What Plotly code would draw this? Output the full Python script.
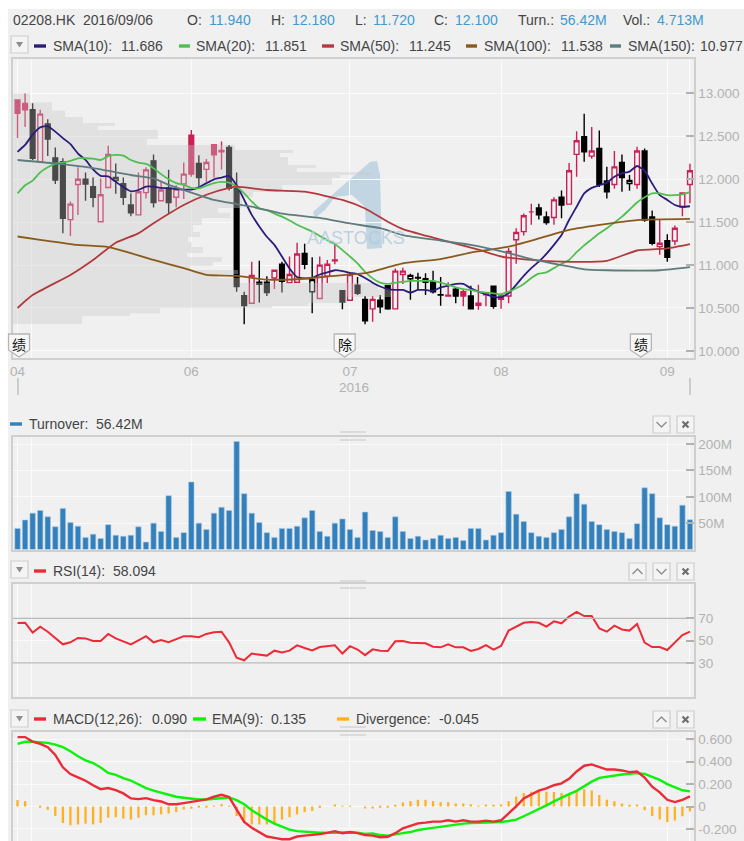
import plotly.graph_objects as go

W, H = 744, 841

# ---------- data ----------
opens = [12.925,12.885,12.81,12.205,12.645,12.25,12.205,11.53,11.94,12.0,11.915,11.505,11.905,11.985,11.95,11.70,11.585,11.845,12.215,11.75,
         11.90,11.79,11.945,12.515,12.185,12.115,12.40,12.335,12.37,11.895,10.644,10.555,10.775,10.80,10.85,11.01,10.795,10.80,11.135,10.69,
         10.61,10.87,11.06,10.70,10.59,10.765,10.60,10.49,10.59,10.76,10.49,10.89,10.84,10.855,10.84,10.805,10.655,10.64,10.72,10.69,
         10.64,10.53,10.655,10.755,10.64,10.64,11.295,11.39,11.62,11.665,11.56,11.555,11.79,11.71,12.29,12.495,12.27,12.36,11.98,11.94,
         12.195,11.95,11.94,12.33,11.56,11.215,11.285,11.28,11.675,11.94]
highs = [12.925,13.0,12.885,12.81,12.70,12.37,12.245,11.74,12.14,12.08,12.02,12.01,12.39,12.185,12.02,11.835,12.08,12.14,12.29,11.97,
         12.11,11.93,12.195,12.575,12.28,12.235,12.40,12.44,12.40,12.08,10.69,11.04,11.05,10.87,10.94,11.04,11.10,11.26,11.25,11.09,
         11.10,11.06,11.25,10.70,10.91,10.86,10.64,10.64,10.65,10.76,10.96,10.97,10.90,10.91,10.905,10.935,10.86,10.80,10.74,10.71,
         10.76,10.77,10.665,10.76,10.65,11.20,11.43,11.60,11.715,11.715,11.625,11.79,11.87,12.19,12.56,12.765,12.61,12.57,12.145,12.33,
         12.29,12.05,12.38,12.36,11.635,11.53,11.36,11.46,11.85,12.18]
lows = [12.48,12.61,12.225,12.205,12.27,11.945,11.37,11.34,11.585,11.75,11.675,11.505,11.905,11.83,11.70,11.57,11.585,11.775,11.67,11.75,
        11.60,11.675,11.77,12.03,11.915,11.97,12.02,12.115,11.87,10.69,10.31,10.555,10.565,10.64,10.72,10.68,10.795,10.80,10.95,10.44,
        10.61,10.79,11.01,10.485,10.59,10.65,10.31,10.34,10.44,10.48,10.49,10.78,10.595,10.71,10.65,10.67,10.525,10.63,10.555,10.52,
        10.49,10.48,10.52,10.49,10.49,10.555,11.015,11.345,11.47,11.53,11.47,11.47,11.545,11.71,12.03,12.205,12.24,11.91,11.775,11.89,
        11.855,11.865,11.89,11.505,11.23,11.12,11.04,11.235,11.57,11.72]
closes = [12.77,12.81,12.245,12.76,12.47,11.99,11.545,11.71,12.0,11.945,11.79,11.82,12.29,12.02,11.79,11.61,11.855,12.11,11.73,11.875,
          11.73,11.885,12.06,12.06,12.02,12.195,12.285,12.32,11.895,10.75,10.527,10.88,10.80,10.68,10.94,10.81,10.89,11.13,11.01,10.83,
          11.0,11.01,11.05,10.57,10.89,10.67,10.35,10.60,10.515,10.49,10.93,10.93,10.88,10.85,10.80,10.69,10.65,10.65,10.64,10.64,
          10.49,10.555,10.665,10.52,10.60,11.16,11.38,11.575,11.62,11.585,11.495,11.76,11.70,12.10,12.45,12.32,12.33,11.94,11.855,12.145,
          12.02,11.985,12.33,11.525,11.255,11.255,11.09,11.43,11.84,12.10]
candle_tone = ("rrkrkkkrrk" "krrkkkrrkr" "krrrkrrrkk" "krkkrkrrkk" "rrrkrkkrkk"
               "rrkkkkkrkr" "krrkrrrrrk" "krkrrkrkkr" "kkrkkrkrrr")

turnover = [40,56,69,74,62,43,78,51,44,23,29,21,47,27,25,27,43,14,50,34,102,23,32,128,50,38,69,80,74,205,
            106,69,51,32,23,40,40,44,60,74,34,25,50,58,38,23,71,36,34,23,62,34,21,25,18,21,27,21,23,17,
            40,40,18,27,32,110,67,53,32,25,23,32,38,62,106,86,53,47,38,34,32,21,49,117,106,60,47,44,84,56.42]
rsi = [65.8,66.1,57.2,62.5,58,52,46.7,48.5,52.4,52,49.7,49.7,56,52,49,46.7,50.3,54,48.5,50.6,
       48.5,51,54,54,53,56,57.5,58,48.5,34.8,32.4,38.4,37.8,36.6,41,39.3,41,45.8,43.4,41.3,
       44.3,45,45.8,38.4,45,42,37,42.2,41,40.7,49.4,49.7,48.2,47.9,47.6,44.6,44,46.7,44,44,
       40.7,42.5,46,42,45.2,59,62.5,66,66.7,66,62.5,67.3,65.5,71.5,75.7,72,72,61,58,63.4,
       60,59,65,48.2,44.3,44.3,41.6,48.5,55,58.094]
macd = [.62,.62,.58,.56,.53,.46,.35,.29,.26,.23,.19,.155,.165,.147,.117,.072,.066,.075,.057,.045,
        .02,.02,.03,.042,.05,.063,.087,.105,.084,-.033,-.138,-.19,-.23,-.268,-.28,-.292,-.292,-.268,-.26,-.255,
        -.247,-.235,-.22,-.238,-.228,-.238,-.255,-.26,-.274,-.27,-.238,-.195,-.171,-.15,-.144,-.135,-.135,-.123,-.135,-.123,
        -.135,-.135,-.126,-.135,-.123,-.063,0,.072,.11,.141,.162,.19,.207,.247,.313,.364,.376,.352,.33,.33,
        .322,.307,.313,.259,.177,.126,.06,.04,.06,.09]
ema = [.56,.578,.578,.571,.568,.553,.53,.493,.448,.412,.388,.349,.30,.283,.253,.232,.195,.165,.141,.123,
       .102,.087,.078,.069,.063,.063,.069,.078,.081,.057,.02,-.033,-.078,-.117,-.153,-.177,-.207,-.22,-.226,-.232,
       -.235,-.235,-.232,-.232,-.232,-.235,-.244,-.24,-.255,-.26,-.247,-.238,-.228,-.21,-.20,-.19,-.18,-.171,-.16,-.153,
       -.147,-.144,-.144,-.144,-.138,-.129,-.117,-.087,-.057,-.02,.01,.046,.08,.11,.14,.183,.222,.256,.268,.277,
       .286,.292,.298,.292,.268,.238,.20,.17,.145,.135]
divergence = [.057,.048,0,-.01,-.03,-.085,-.147,-.168,-.16,-.153,-.16,-.147,-.10,-.096,-.108,-.117,-.10,-.078,-.078,-.07,
              -.063,-.05,-.027,-.02,-.01,-.003,.006,.021,.003,-.085,-.147,-.16,-.16,-.16,-.153,-.117,-.096,-.07,-.05,-.04,
              -.012,0,.018,.003,.005,0,-.018,-.018,-.01,-.01,.015,.036,.048,.06,.06,.048,.039,.039,.027,.027,
              .02,.006,.018,.012,.018,.048,.09,.12,.132,.13,.132,.13,.12,.12,.141,.153,.144,.102,.06,.048,
              .027,.015,.018,-.033,-.084,-.117,-.138,-.126,-.087,-.045]
sma10 = [12.32,12.40,12.52,12.605,12.62,12.555,12.48,12.41,12.30,12.225,12.115,12.04,12.035,11.97,11.91,11.86,11.875,11.915,11.915,11.90,
         11.895,11.885,11.88,11.88,11.905,11.955,12.0,12.02,12.04,11.93,11.76,11.585,11.45,11.33,11.235,11.10,10.96,10.86,10.845,10.85,
         10.89,10.915,10.94,10.93,10.91,10.895,10.85,10.795,10.75,10.72,10.71,10.71,10.68,10.71,10.71,10.70,10.74,10.76,10.78,10.78,
         10.73,10.69,10.66,10.63,10.625,10.67,10.77,10.875,10.965,11.04,11.13,11.235,11.35,11.525,11.68,11.835,11.90,11.93,11.96,12.03,
         12.07,12.09,12.155,12.10,11.95,11.815,11.76,11.70,11.68,11.686]
sma20 = [11.835,11.93,11.985,12.08,12.14,12.18,12.195,12.215,12.245,12.245,12.24,12.225,12.27,12.285,12.275,12.225,12.195,12.18,12.13,12.06,
         12.0,11.955,11.935,11.90,11.895,11.925,11.955,11.97,11.96,11.915,11.835,11.74,11.66,11.64,11.60,11.565,11.52,11.47,11.43,11.39,
         11.34,11.29,11.245,11.175,11.10,11.02,10.92,10.845,10.795,10.78,10.795,10.805,10.815,10.815,10.815,10.815,10.795,10.77,10.74,10.72,
         10.71,10.69,10.68,10.67,10.66,10.69,10.73,10.78,10.85,10.90,10.915,10.965,11.015,11.06,11.15,11.23,11.30,11.37,11.43,11.495,
         11.565,11.645,11.73,11.79,11.835,11.835,11.815,11.815,11.825,11.851]
sma50_idx = [0,2,7,10,13,16,18,22,25,28,29,33,38,43,46,49,51,55,61,64,68,72,78,82,86,89]
sma50 = [10.50,10.65,10.885,11.06,11.26,11.37,11.487,11.70,11.82,11.90,11.915,11.875,11.855,11.76,11.66,11.505,11.42,11.32,11.18,11.10,11.06,11.04,11.05,11.17,11.195,11.245]
sma100_idx = [0,3,8,12,15,18,22,25,29,33,37,42,46,47,51,56,60,65,69,73,78,82,89]
sma100 = [11.333,11.295,11.235,11.21,11.14,11.06,10.965,10.885,10.875,10.83,10.835,10.875,10.905,10.925,11.02,11.07,11.145,11.215,11.31,11.41,11.48,11.525,11.538]
sma150_idx = [0,5,10,15,18,20,22,26,31,35,40,44,48,51,56,60,65,68,72,75,78,85,89]
sma150 = [12.225,12.185,12.13,12.05,12.01,11.935,11.875,11.76,11.68,11.60,11.55,11.485,11.43,11.35,11.285,11.235,11.14,11.07,11.0,10.95,10.94,10.94,10.977]

profile_high = [13.0,12.895,12.80,12.726,12.656,12.621,12.575,12.47,12.40,12.34,12.307,12.26,12.167,12.132,12.085,12.05,12.015,11.934,11.852,11.794,11.666,11.607,11.549,11.467,11.386,11.327,11.269,11.211,11.14,11.094,11.036,10.99,10.943,10.897,10.85,10.791,10.721,10.628,10.558,10.523,10.50,10.44,10.407]
profile_low = [12.895,12.80,12.726,12.656,12.621,12.575,12.47,12.40,12.34,12.307,12.26,12.167,12.132,12.085,12.05,12.015,11.934,11.852,11.794,11.666,11.607,11.549,11.467,11.386,11.327,11.269,11.211,11.14,11.094,11.036,10.99,10.943,10.897,10.85,10.791,10.721,10.628,10.558,10.523,10.50,10.44,10.407,10.313]
profile_volume = [17,39,52,70,102,85,145,134,222,280,267,275,303,284,359,327,319,269,240,229,205,217,189,180,187,175,179,190,174,209,200,177,225,204,227,365,379,334,295,259,147,117,69]

month_idx = [0,1.9,23,44,64,86,89]
month_labels = ["04","","06","07","08","09",""]
flag_idx = [0.2,43.3,82.5]
flag_labels = ["绩","除","绩"]

price_ticks = [10,10.5,11,11.5,12,12.5,13]
price_tick_labels = ["10.000","10.500","11.000","11.500","12.000","12.500","13.000"]
turn_ticks = [50,100,150,200]
turn_tick_labels = ["50M","100M","150M","200M"]
rsi_ticks = [30,50,70]
macd_ticks = [-0.2,0,0.2,0.4,0.6]
macd_tick_labels = ["-0.200","0","0.200","0.400","0.600"]

# ---------- colours ----------
C_SMA10, C_SMA20, C_SMA50, C_SMA100, C_SMA150 = "#2b1d7c", "#4fbf50", "#b23a3f", "#8a5a1c", "#5f7c7c"
C_PINK, C_DARK = "#cc1f55", "#000000"
C_TURN, C_RSI, C_EMA, C_DIV = "#3380bc", "#ec2b36", "#0bf20b", "#ffb01f"
LABEL, VALUE, GRID, AXIS, BORDER = "#454545", "#3e9ad0", "#fbfbfb", "#b2b2b2", "#cfcfcf"
PAGE, PANEL = "#f0f0f0", "#f4f4f4"
FONT = "Liberation Sans"

# ---------- pixel helpers for page furniture ----------
px = lambda x: x / W
py = lambda y: 1 - y / H
L, R = 13, 693.5
xrange_ = [-0.6, 89.47]
idx = list(range(90))

def xpix(i):
    return 17.5 + 7.556 * i

fig = go.Figure()

# candles: two traces, one for each tone
def pick(seq, tone):
    return [v if t == tone else None for v, t in zip(seq, candle_tone)]

for tone, col, name in (("r", C_PINK, "up"), ("k", C_DARK, "down")):
    fig.add_trace(go.Candlestick(
        x=idx, open=pick(opens, tone), high=pick(highs, tone), low=pick(lows, tone), close=pick(closes, tone),
        xaxis="x", yaxis="y", name=name, showlegend=False, whiskerwidth=0,
        increasing=dict(line=dict(color=col, width=1.4), fillcolor=PANEL),
        decreasing=dict(line=dict(color=col, width=1.4), fillcolor=col)))

# volume profile over the candles
fig.add_trace(go.Bar(
    y=[(a + b) / 2 for a, b in zip(profile_high, profile_low)],
    x=profile_volume, width=[a - b for a, b in zip(profile_high, profile_low)],
    orientation="h", xaxis="x5", yaxis="y", showlegend=False,
    marker=dict(color="rgba(200,200,200,0.37)", line=dict(width=0))))

# moving averages over the profile
for xs, ys, col in ((idx, sma10, C_SMA10), (idx, sma20, C_SMA20), (sma50_idx, sma50, C_SMA50),
                    (sma100_idx, sma100, C_SMA100), (sma150_idx, sma150, C_SMA150)):
    fig.add_trace(go.Scatter(x=xs, y=ys, mode="lines", xaxis="x6", yaxis="y", showlegend=False,
                             line=dict(color=col, width=1.8, shape="spline", smoothing=0.5)))

fig.add_trace(go.Bar(x=idx, y=turnover, width=0.72, xaxis="x2", yaxis="y2", showlegend=False,
                     marker=dict(color=C_TURN, line=dict(color="#a9cbe4", width=0.6))))
fig.add_trace(go.Scatter(x=idx, y=rsi, mode="lines", xaxis="x3", yaxis="y3", showlegend=False,
                         line=dict(color=C_RSI, width=2)))
fig.add_trace(go.Bar(x=idx, y=divergence, width=0.3, xaxis="x4", yaxis="y4", showlegend=False,
                     marker=dict(color=C_DIV, line=dict(width=0))))
fig.add_trace(go.Scatter(x=idx, y=ema, mode="lines", xaxis="x4", yaxis="y4", showlegend=False,
                         line=dict(color=C_EMA, width=2.4)))
fig.add_trace(go.Scatter(x=idx, y=macd, mode="lines", xaxis="x4", yaxis="y4", showlegend=False,
                         line=dict(color=C_RSI, width=2.4)))

# ---------- axes ----------
x_dom = [px(L), px(R)]

def yaxis(top, bottom, rng, vals, text, anchor):
    return dict(domain=[py(bottom), py(top)], range=rng, side="right", anchor=anchor, tickmode="array",
                tickvals=vals, ticktext=text, ticks="inside", ticklen=8, tickcolor=AXIS, tickwidth=1.5,
                tickfont=dict(family=FONT, size=13.5, color=AXIS), showgrid=True, gridcolor=GRID, gridwidth=1,
                zeroline=False, showline=True, linecolor=BORDER, linewidth=2, mirror=True, fixedrange=True,
                automargin=False)

def xaxis(anchor, labels=False):
    return dict(domain=x_dom, range=xrange_, anchor=anchor, tickmode="array", tickvals=month_idx,
                ticktext=month_labels if labels else [""] * len(month_idx), ticks="", showgrid=True,
                gridcolor=GRID, gridwidth=1, zeroline=False, showline=True, linecolor=BORDER, linewidth=2,
                mirror=True, fixedrange=True, rangeslider=dict(visible=False), automargin=False,
                tickfont=dict(family=FONT, size=13.5, color=AXIS))

x4 = xaxis("y4")
x4.update(side="top", mirror=False)

layout = dict(
    width=W, height=H, margin=dict(l=0, r=0, t=0, b=0, pad=0), autosize=False,
    paper_bgcolor="#ffffff", plot_bgcolor=PANEL, barmode="overlay", boxgap=0.1, hovermode=False, showlegend=False,
    font=dict(family=FONT, size=14, color=LABEL),
    xaxis=xaxis("y", labels=True),
    yaxis=yaxis(59, 358, [9.917, 13.402], price_ticks, price_tick_labels, "x"),
    xaxis2=xaxis("y2"),
    yaxis2=yaxis(436.7, 549.5, [0, 214], turn_ticks, turn_tick_labels, "x2"),
    xaxis3=xaxis("y3"),
    yaxis3=yaxis(584, 696.7, [-0.2, 100.7], rsi_ticks, [str(v) for v in rsi_ticks], "x3"),
    xaxis4=x4,
    yaxis4=yaxis(731.7, 841, [-0.308, 0.668], macd_ticks, macd_tick_labels, "x4"),
    xaxis5=dict(domain=x_dom, range=[0, R - L], overlaying="x", anchor="y", visible=False, fixedrange=True, automargin=False),
    xaxis6=dict(domain=x_dom, range=xrange_, overlaying="x", anchor="y", visible=False, fixedrange=True, automargin=False),
)
fig.update_layout(**layout)

# ---------- shapes ----------
shapes = []
def rect(x0, y0, x1, y1, fill, line=None, lw=0, layer="below"):
    shapes.append(dict(type="rect", xref="paper", yref="paper", x0=px(x0), x1=px(x1), y0=py(y1), y1=py(y0),
                       fillcolor=fill, line=dict(color=line or fill, width=lw), layer=layer))
def path(points, line=None, lw=1, fill=None, layer="above", close=False):
    d = "M " + " L ".join(f"{px(a):.5f},{py(b):.5f}" for a, b in points) + (" Z" if close else "")
    shapes.append(dict(type="path", xref="paper", yref="paper", path=d, fillcolor=fill or "rgba(0,0,0,0)",
                       line=dict(color=line or "rgba(0,0,0,0)", width=lw), layer=layer))

rect(8, 9, 744, 841, PAGE)
# watermark
path([(313,212),(340,188),(370,162),(377,161),(380,175),(382,248),(367,249),(365,207),(352,195),(335,197),(325,210),(315,218)],
     fill="#c2d5e3", layer="below", close=True)
# RSI guide lines
for lvl in (70, 30):
    shapes.append(dict(type="line", xref="x3 domain", yref="y3", x0=0, x1=1, y0=lvl, y1=lvl,
                       line=dict(color="#b9b9b9", width=1.3), layer="above"))

# drag handles
for y0, y1 in ((432, 440), (581, 588), (727, 735)):
    for y in (y0, y1):
        path([(340, y), (366, y)], line="#d2d2d2", lw=1.4)

# range marks below the main chart
path([(18, 378), (18, 395)], line="#a8a8a8", lw=1)
path([(690, 378), (690, 395)], line="#a8a8a8", lw=1)

# flags on the main chart
for i in flag_idx:
    c = xpix(i)
    path([(c-10.5, 334), (c+10.5, 334), (c+10.5, 350), (c, 357), (c-10.5, 350)], line="#b5b5b5", lw=1.3, fill="#f7f7f7", close=True)

# buttons
def button(x, y, kind):
    rect(x, y, x + 17, y + 17, "#f4f4f4", "#cdcdcd", 1.2, layer="above")
    cx, cy = x + 8.5, y + 8.5
    if kind == "menu":
        path([(cx-3.5, cy-2.5), (cx+3.5, cy-2.5), (cx, cy+3)], fill="#8d8d8d", close=True)
    elif kind == "down":
        path([(cx-5, cy-2.5), (cx, cy+2.5), (cx+5, cy-2.5)], line="#8f8f8f", lw=1.4)
    elif kind == "up":
        path([(cx-5, cy+2.5), (cx, cy-2.5), (cx+5, cy+2.5)], line="#8f8f8f", lw=1.4)
    else:
        path([(cx-3, cy-3), (cx+3, cy+3)], line="#6d6d6d", lw=2.2)
        path([(cx-3, cy+3), (cx+3, cy-3)], line="#6d6d6d", lw=2.2)

for x, y, k in ((11, 36, "menu"), (653, 416, "down"), (677, 416, "close"),
                (11, 561, "menu"), (629, 563, "up"), (653, 563, "down"), (677, 563, "close"),
                (11, 710, "menu"), (653, 711, "up"), (677, 711, "close")):
    button(x, y, k)

# legend keys
for x0, x1, y, col in ((34, 46, 46, C_SMA10), (179, 190, 46, C_SMA20), (322, 334, 46, C_SMA50), (466, 477, 46, C_SMA100),
                       (610, 621, 46, C_SMA150), (10, 22, 424, C_TURN), (34, 46, 571, C_RSI), (34, 46, 719, C_RSI),
                       (193, 206, 719, C_EMA), (337, 349, 719, C_DIV)):
    rect(x0, y - 1.7, x1, y + 1.7, col, layer="above")

fig.update_layout(shapes=shapes)

# ---------- text ----------
notes = []
def text(x, y, s, color=LABEL, size=14, anchor="left", font=FONT):
    notes.append(dict(xref="paper", yref="paper", x=px(x), y=py(y), text=s, showarrow=False, xanchor=anchor,
                      yanchor="middle", align="left", borderpad=0, font=dict(family=font, size=size, color=color)))

text(12, 20, "02208.HK&nbsp;&nbsp;2016/09/06")
for x, s, c in ((186, "O:", LABEL), (208, "11.940", VALUE), (270, "H:", LABEL), (291, "12.180", VALUE), (354, "L:", LABEL),
                (372, "11.720", VALUE), (433, "C:", LABEL), (454, "12.100", VALUE), (517, "Turn.:", LABEL), (559, "56.42M", VALUE),
                (622, "Vol.:", LABEL), (656, "4.713M", VALUE)):
    text(x, 20, s, c)
for x, s in ((52, "SMA(10):"), (120, "11.686"), (195, "SMA(20):"), (264, "11.851"), (339, "SMA(50):"), (408, "11.245"),
             (483, "SMA(100):"), (560, "11.538"), (627, "SMA(150):")):
    text(x, 46, s)
text(743.5, 46, "10.977", anchor="right")
text(28, 424, "Turnover:"); text(95, 424, "56.42M")
text(52, 571, "RSI(14):"); text(112, 571, "58.094")
for x, s in ((52, "MACD(12,26):"), (151, "0.090"), (211, "EMA(9):"), (270, "0.135"), (355, "Divergence:"), (438, "-0.045")):
    text(x, 719, s)
text(354, 387, "2016", AXIS, 13.5, "center")
for i, s in zip(flag_idx, flag_labels):
    text(xpix(i), 344, s, "#111111", 14, "center", "Noto Sans CJK SC")
text(356, 238, "AASTOCKS", "rgba(178,203,222,0.85)", 18, "center")
fig.update_layout(annotations=notes)

fig.write_html("out.html", config=dict(displayModeBar=False),
               post_script="document.body.style.margin='0';document.documentElement.style.overflow='hidden';")
